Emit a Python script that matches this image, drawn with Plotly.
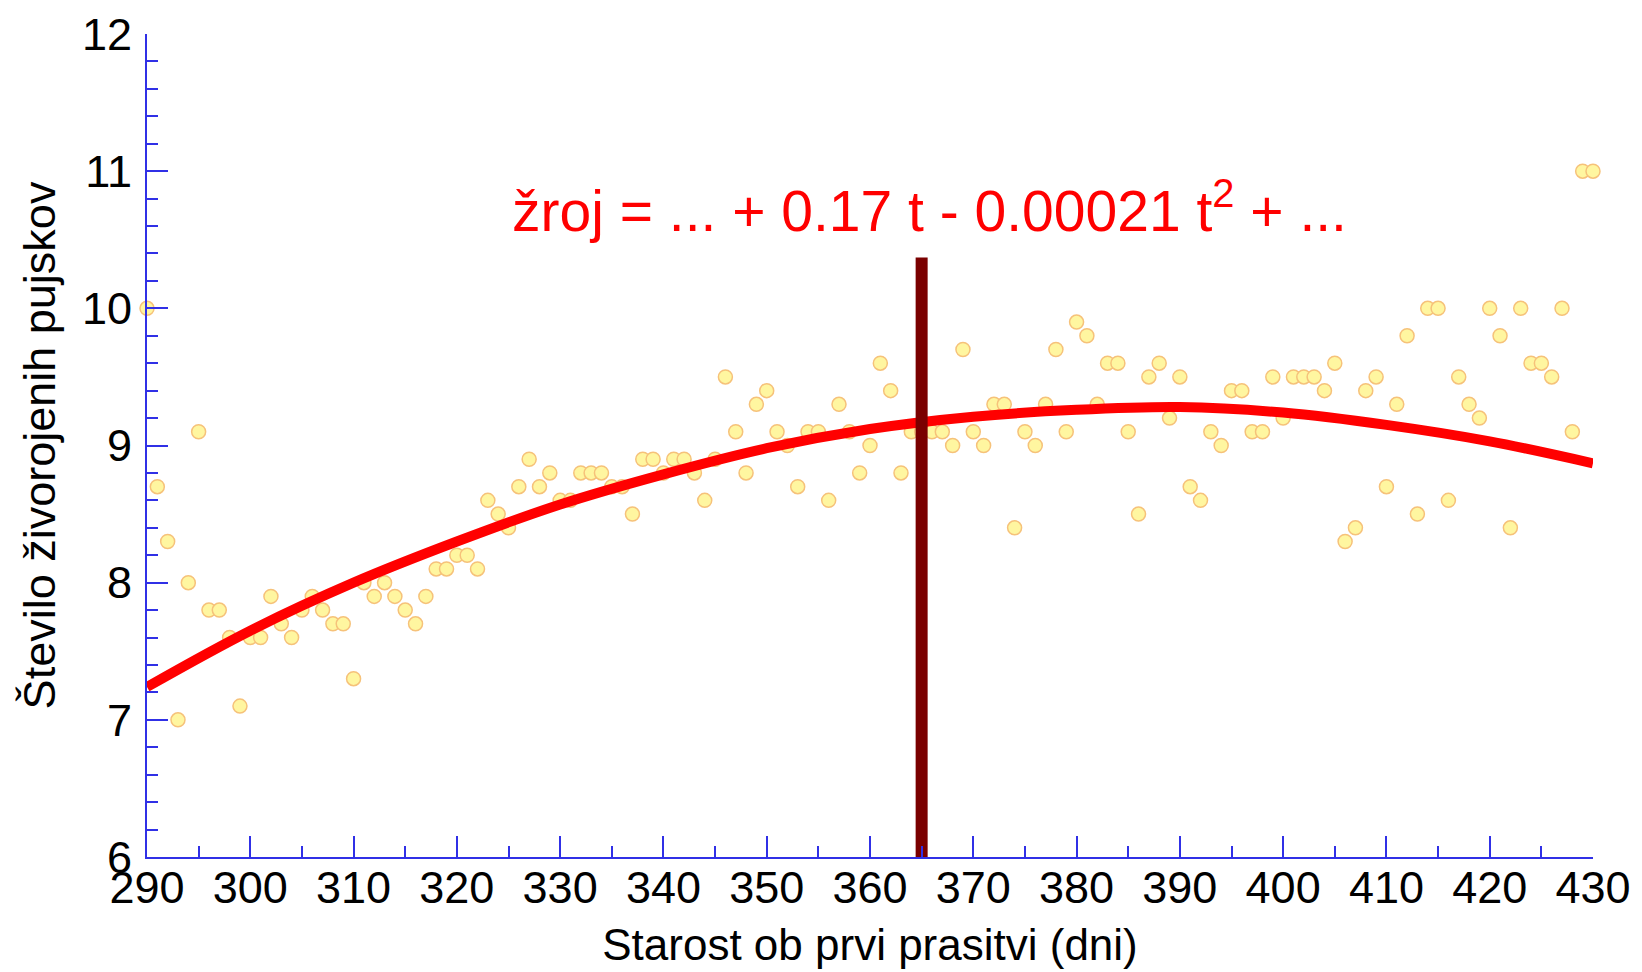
import plotly.graph_objects as go

# Observed data: age at first farrowing (days) vs number of live-born piglets
days = list(range(290, 431))
piglets = [
    10.0, 8.7, 8.3, 7.0, 8.0, 9.1, 7.8, 7.8, 7.6, 7.1,   # 290-299
    7.6, 7.6, 7.9, 7.7, 7.6, 7.8, 7.9, 7.8, 7.7, 7.7,    # 300-309
    7.3, 8.0, 7.9, 8.0, 7.9, 7.8, 7.7, 7.9, 8.1, 8.1,    # 310-319
    8.2, 8.2, 8.1, 8.6, 8.5, 8.4, 8.7, 8.9, 8.7, 8.8,    # 320-329
    8.6, 8.6, 8.8, 8.8, 8.8, 8.7, 8.7, 8.5, 8.9, 8.9,    # 330-339
    8.8, 8.9, 8.9, 8.8, 8.6, 8.9, 9.5, 9.1, 8.8, 9.3,    # 340-349
    9.4, 9.1, 9.0, 8.7, 9.1, 9.1, 8.6, 9.3, 9.1, 8.8,    # 350-359
    9.0, 9.6, 9.4, 8.8, 9.1, 9.1, 9.1, 9.1, 9.0, 9.7,    # 360-369
    9.1, 9.0, 9.3, 9.3, 8.4, 9.1, 9.0, 9.3, 9.7, 9.1,    # 370-379
    9.9, 9.8, 9.3, 9.6, 9.6, 9.1, 8.5, 9.5, 9.6, 9.2,    # 380-389
    9.5, 8.7, 8.6, 9.1, 9.0, 9.4, 9.4, 9.1, 9.1, 9.5,    # 390-399
    9.2, 9.5, 9.5, 9.5, 9.4, 9.6, 8.3, 8.4, 9.4, 9.5,    # 400-409
    8.7, 9.3, 9.8, 8.5, 10.0, 10.0, 8.6, 9.5, 9.3, 9.2,  # 410-419
    10.0, 9.8, 8.4, 10.0, 9.6, 9.6, 9.5, 10.0, 9.1, 11.0,  # 420-429
    11.0,                                                # 430
]

# Fitted curve
fit_days = [290, 300, 310, 320, 330, 340, 350, 360, 370, 380, 390, 400, 410, 420, 430]
fit_vals = [7.24, 7.65, 8.00, 8.30, 8.57, 8.79, 8.98, 9.12, 9.21, 9.26, 9.28, 9.24, 9.15, 9.03, 8.87]

# Vertical marker at 365 days
vline_x = [365, 365]
vline_y = [6, 10.37]

equation = "žroj = ... + 0.17 t - 0.00021 t<sup>2</sup> + ..."
x_title = "Starost ob prvi prasitvi (dni)"
y_title = "Število živorojenih pujskov"

AXIS_BLUE = "#3030e6"
FONT = "Liberation Sans, Arial, Helvetica, sans-serif"

fig = go.Figure()

fig.add_trace(go.Scatter(
    x=days, y=piglets, mode="markers",
    marker=dict(size=14, color="#fff6a0", line=dict(color="#f6c27a", width=1.5)),
    cliponaxis=False, showlegend=False, hoverinfo="x+y",
))

fig.add_trace(go.Scatter(
    x=fit_days, y=fit_vals, mode="lines",
    line=dict(color="#ff0000", width=10, shape="spline", smoothing=1.0),
    showlegend=False,
))

fig.add_trace(go.Scatter(
    x=vline_x, y=vline_y, mode="lines",
    line=dict(color="#7a0000", width=12),
    showlegend=False,
))

fig.add_annotation(
    x=365.8, y=10.74, xref="x", yref="y", text=equation, showarrow=False,
    font=dict(family=FONT, size=57, color="#ff0000"),
    xanchor="center", yanchor="middle",
)

axis_common = dict(
    showline=True, linecolor=AXIS_BLUE, linewidth=2,
    ticks="inside", tickcolor=AXIS_BLUE, tickwidth=2, ticklen=21,
    showgrid=False, zeroline=False, mirror=False,
    tickfont=dict(family=FONT, size=45, color="black"),
)

fig.update_xaxes(
    range=[290, 430], dtick=10, tick0=290,
    minor=dict(ticks="inside", ticklen=11, tickcolor=AXIS_BLUE, tickwidth=2, dtick=5, showgrid=False),
    title=dict(text=x_title, font=dict(family=FONT, size=44, color="black"), standoff=17),
    ticklabelstandoff=-10,
    **axis_common,
)
fig.update_yaxes(
    range=[6, 12], dtick=1, tick0=6,
    minor=dict(ticks="inside", ticklen=11, tickcolor=AXIS_BLUE, tickwidth=2, dtick=0.2, showgrid=False),
    title=dict(text=y_title, font=dict(family=FONT, size=45, color="black"), standoff=12),
    ticklabelstandoff=4,
    **axis_common,
)

fig.update_layout(
    width=1642, height=972,
    margin=dict(l=139, r=57, t=26, b=123, autoexpand=False),
    plot_bgcolor="white", paper_bgcolor="white",
    font=dict(family=FONT),
)

fig.write_html("out.html")
